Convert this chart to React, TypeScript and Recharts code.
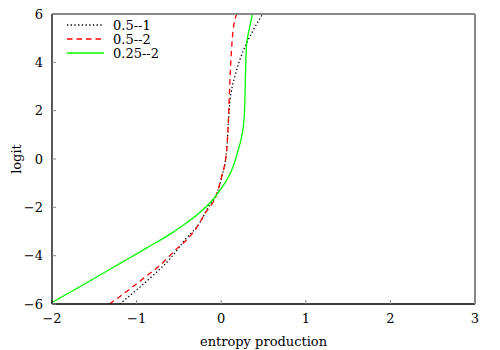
import { LineChart, Line, XAxis, YAxis, Legend } from "recharts";

const FONT = "'DejaVu Serif', serif";

const X_TICKS = [-2, -1, 0, 1, 2, 3];
const Y_TICKS = [-6, -4, -2, 0, 2, 4, 6];

// 0.5--1 (black dotted)
const BLACK_X = [-1.2, -1.0, -0.8, -0.6, -0.43, -0.25, -0.15, -0.05, 0.01, 0.065, 0.085, 0.1, 0.12, 0.16, 0.22, 0.3, 0.38, 0.49];
const BLACK_Y = [-6, -5.42, -4.8, -4.11, -3.35, -2.62, -1.97, -1.42, -0.7, 0.4, 1.5, 2.3, 2.8, 3.4, 4.1, 4.79, 5.34, 6];

// 0.5--2 (red dashed)
const RED_X = [-1.32, -1.12, -0.92, -0.72, -0.54, -0.37, -0.31, -0.19, -0.05, 0.005, 0.065, 0.08, 0.09, 0.1, 0.115, 0.14, 0.185];
const RED_Y = [-6, -5.49, -4.94, -4.39, -3.76, -3.2, -2.94, -2.25, -1.42, -0.73, 0.37, 1.2, 2.03, 3.0, 4.1, 5.3, 6];

// 0.25--2 (green solid)
const GREEN_X = [-2, -1.6, -1.2, -0.9, -0.6, -0.4, -0.25, -0.12, -0.05, 0.05, 0.12, 0.2, 0.24, 0.26, 0.272, 0.279, 0.283, 0.287, 0.292, 0.3, 0.33, 0.37];
const GREEN_Y = [-5.94, -5.14, -4.33, -3.72, -3.1, -2.62, -2.2, -1.77, -1.46, -0.96, -0.5, 0.35, 0.9, 1.3, 1.75, 2.3, 2.9, 3.5, 4.1, 4.75, 5.34, 6];

const zip = (xs: number[], ys: number[]) => xs.map((x, i) => ({ x, y: ys[i] }));

const SERIES = [
  { name: "0.5--1", data: zip(BLACK_X, BLACK_Y), color: "#000000", dash: "1.3 2.4" },
  { name: "0.5--2", data: zip(RED_X, RED_Y), color: "#ff0000", dash: "5.5 4" },
  { name: "0.25--2", data: zip(GREEN_X, GREEN_Y), color: "#00ff00", dash: undefined as string | undefined },
];

const fmt = (v: number) => (v < 0 ? `\u2212${Math.abs(v)}` : `${v}`);

const tickStyle = { fontFamily: FONT, fontSize: 13, fill: "#000" };

function renderLegend() {
  return (
    <div style={{ fontFamily: FONT, fontSize: 13, color: "#000" }}>
      {SERIES.map((s) => (
        <div key={s.name} style={{ display: "flex", alignItems: "center", height: 14.2 }}>
          <svg width={40} height={6}>
            <line x1={1} y1={3} x2={38} y2={3} stroke={s.color} strokeWidth={1.3} strokeDasharray={s.dash} />
          </svg>
          <span style={{ marginLeft: 7, lineHeight: "13px" }}>{s.name}</span>
        </div>
      ))}
    </div>
  );
}

export default function App() {
  return (
    <div style={{ position: "absolute", left: 0, top: 0, background: "#fff" }}>
      <LineChart width={500} height={350} margin={{ top: 13, right: 24, bottom: 0, left: 0 }}>
        <XAxis
          xAxisId="bottom"
          type="number"
          dataKey="x"
          domain={[-2, 3]}
          ticks={X_TICKS}
          height={46}
          tick={tickStyle}
          tickFormatter={fmt}
          tickSize={-4}
          tickMargin={14}
          tickLine={{ stroke: "#888" }}
          axisLine={{ stroke: "#000", strokeWidth: 1.3 }}
          allowDataOverflow
          label={{
            value: "entropy production",
            position: "insideBottom",
            offset: 4,
            style: { fontFamily: FONT, fontSize: 13, fill: "#000" },
          }}
        />
        <XAxis
          xAxisId="top"
          orientation="top"
          type="number"
          dataKey="x"
          domain={[-2, 3]}
          ticks={X_TICKS}
          height={1}
          tick={false}
          tickSize={-4}
          tickLine={{ stroke: "#888" }}
          axisLine={{ stroke: "#888", strokeWidth: 2 }}
          allowDataOverflow
        />
        <YAxis
          yAxisId="left"
          type="number"
          dataKey="y"
          domain={[-6, 6]}
          ticks={Y_TICKS}
          width={52}
          tick={tickStyle}
          tickFormatter={fmt}
          tickSize={-4}
          tickMargin={13}
          tickLine={{ stroke: "#888" }}
          axisLine={{ stroke: "#000", strokeWidth: 1.3 }}
          allowDataOverflow
          label={{
            value: "logit",
            angle: -90,
            position: "insideLeft",
            offset: 0,
            content: () => (
              <text
                x={16}
                y={159}
                transform="rotate(-90, 16, 159)"
                textAnchor="middle"
                dominantBaseline="central"
                style={{ fontFamily: FONT, fontSize: 13, fill: "#000" }}
              >
                logit
              </text>
            ),
          }}
        />
        <YAxis
          yAxisId="right"
          orientation="right"
          type="number"
          dataKey="y"
          domain={[-6, 6]}
          ticks={Y_TICKS}
          width={1}
          tick={false}
          tickSize={-4}
          tickLine={{ stroke: "#888" }}
          axisLine={{ stroke: "#888", strokeWidth: 2 }}
          allowDataOverflow
        />
        <Legend
          layout="vertical"
          align="center"
          verticalAlign="middle"
          content={renderLegend}
          wrapperStyle={{ left: 66, top: 18, width: "auto", height: "auto" }}
        />
        {SERIES.map((s) => (
          <Line
            key={s.name}
            xAxisId="bottom"
            yAxisId="left"
            data={s.data}
            dataKey="y"
            name={s.name}
            type="monotone"
            stroke={s.color}
            strokeWidth={1.3}
            strokeDasharray={s.dash}
            dot={false}
            activeDot={false}
            isAnimationActive={false}
          />
        ))}
      </LineChart>
    </div>
  );
}
